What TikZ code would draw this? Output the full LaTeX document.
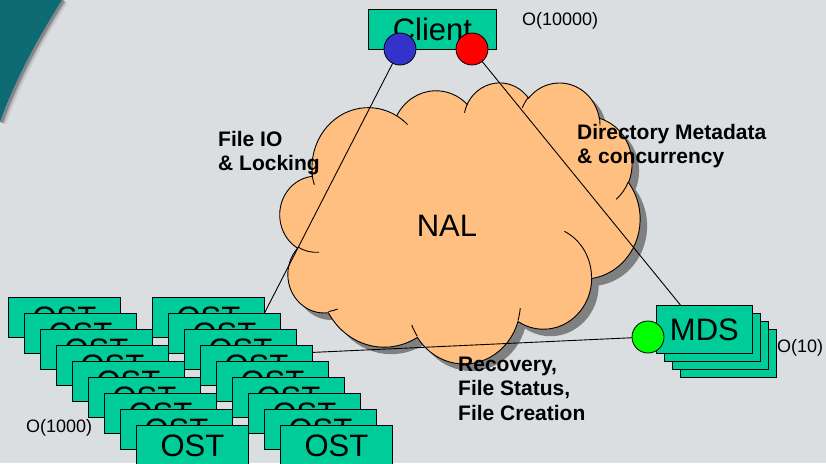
\documentclass[tikz,border=0pt]{standalone}
\usepackage{fontspec}
\setmainfont{Liberation Sans}
\usetikzlibrary{calc}

\definecolor{bgcol}{RGB}{219,222,225}
\definecolor{swoosh}{RGB}{14,107,115}
\definecolor{boxgreen}{RGB}{0,204,153}
\definecolor{cloudorange}{RGB}{255,191,128}
\definecolor{cloudshade}{RGB}{128,128,128}
\definecolor{ioblue}{RGB}{51,51,204}
\definecolor{portgreen}{RGB}{0,255,0}

\pgfdeclarelayer{backdrop}
\pgfdeclarelayer{wires}
\pgfsetlayers{backdrop,wires,main}

\tikzset{
  bigtext/.style={font=\fontsize{31}{36}\selectfont, inner sep=0pt},
  smalltext/.style={font=\fontsize{18}{21}\selectfont, inner sep=0pt, anchor=base west},
  boldtext/.style={font=\fontsize{21}{24}\selectfont\bfseries, inner sep=0pt, anchor=base west},
  unitbox/.style={rectangle, draw=black, line width=0.8pt, fill=boxgreen, inner sep=0pt,
    minimum width=112pt, minimum height=40pt, anchor=north west,
    font=\fontsize{31}{36}\selectfont},
  mdsbox/.style={unitbox, minimum width=96pt, minimum height=48pt},
  port/.style={circle, draw=black, line width=0.8pt, inner sep=0pt, minimum size=32pt},
  wire/.style={draw=black, line width=0.9pt},
  cloudline/.style={draw=black, line width=0.9pt},
  % elliptical arc given by DrawingML-style radii and visual angles (degrees)
  carc/.style n args={4}{x radius=#1pt, y radius=#2pt,
    start angle={ppar(#1,#2,#3)}, end angle={ppar(#1,#2,(#3)+(#4))}},
}

% cloud outline in a 432 x 432 design box, placed at #2 with style #1
\newcommand\nalcloud[2]{%
  \begin{scope}[shift={#2}, x=1pt, y=1pt, xscale=360/432, yscale=-281/432]
    \path[#1] (39.00,143.70)
      arc[carc={67.53}{91.90}{-190.48748}{123.78053}]
      arc[carc={53.33}{72.67}{-144.10238}{89.94523}]
      arc[carc={43.65}{59.45}{-145.80792}{99.72302}]
      arc[carc={48.57}{65.95}{-130.98607}{117.24173}]
      arc[carc={53.33}{72.73}{-78.70888}{109.02692}]
      arc[carc={67.75}{92.20}{-46.26725}{130.2690}]
      arc[carc={57.85}{78.67}{0.62502}{114.03333}]
      arc[carc={67.52}{92.15}{22.4516}{115.17255}]
      arc[carc={77.20}{105.43}{66.24263}{75.71102}]
      arc[carc={43.60}{59.18}{-274.94208}{146.73557}]
      arc[carc={43.45}{59.45}{-246.8285}{152.51885}]
      -- cycle;
  \end{scope}}

% the small inner curves between the puffs
\newcommand\nalcloudcreases{%
  \begin{scope}[shift={(280,82)}, x=1pt, y=1pt, xscale=360/432, yscale=-281/432]
    \path[cloudline]
      (46.93,261.77) arc[carc={43.45}{59.45}{86.742}{26.4295}]
      (69.28,348.99) arc[carc={43.60}{59.18}{73.61047}{11.44747}]
      (164.78,390.90) arc[carc={67.52}{92.15}{137.62415}{14.0811}]
      (288.27,347.51) arc[carc={67.52}{92.15}{6.45327}{15.99835}]
      (341.29,229.54) arc[carc={57.85}{78.67}{-70.29235}{70.91737}]
      (417.98,153.54) arc[carc={53.33}{72.73}{30.31803}{27.7515}]
      (383.24,54.26) arc[carc={48.57}{65.95}{-13.74433}{14.8589}]
      (290.78,39.52) arc[carc={48.57}{65.95}{-149.18145}{18.19537}]
      (221.41,47.20) arc[carc={43.65}{59.45}{-163.49427}{17.68635}]
      (140.00,51.92) arc[carc={67.53}{91.90}{-66.70695}{12.31935}]
      (41.27,157.89) arc[carc={67.53}{91.90}{154.69628}{17.45258}];
  \end{scope}}

\begin{document}
\begin{tikzpicture}[x=1pt, y=-1pt,
  declare function={ppar(\w,\h,\a)=\a+atan2((\w-\h)*sin(\a)*cos(\a),\h*cos(\a)^2+\w*sin(\a)^2);}]

\useasboundingbox (0,0) rectangle (826,463);

\begin{pgfonlayer}{backdrop}
  % slide background
  \fill[bgcol] (0,0) rectangle (826,463);
  % corner swoosh with its soft shadow
  \begin{scope}[shift={(1.5,0.5)}]
    \foreach \w/\o in {10/0.06, 7/0.08, 4.5/0.12, 2.5/0.2}
      \draw[line width=\w pt, black, opacity=\o]
        (62,0) .. controls (38,38) and (15,80) .. (0,122);
  \end{scope}
  \fill[swoosh] (0,0) -- (62,0) .. controls (38,38) and (15,80) .. (0,122) -- cycle;

  % network cloud
  \nalcloud{fill=cloudshade}{(287,89)}
  \nalcloud{fill=cloudorange, draw=black, line width=0.9pt}{(280,82)}
  \nalcloudcreases
\end{pgfonlayer}

% storage targets
\foreach \i in {0,...,8}
  \node[unitbox] (ostL\i) at ({8+16*\i},{297+16*\i}) {OST};
\foreach \i in {0,...,8}
  \node[unitbox] (ostR\i) at ({152+16*\i},{297+16*\i}) {OST};

% metadata servers
\foreach \i in {3,2,1}
  \node[mdsbox] (mds\i) at ({656+8*\i},{305+8*\i}) {};
\node[mdsbox] (mds0) at (656,305) {MDS};

% client
\node[unitbox, minimum width=128pt] (client) at (368,9) {Client};

% ports
\node[port, fill=ioblue] (pio) at (400,49) {};
\node[port, fill=red] (pmeta) at (472,49) {};
\node[port, fill=portgreen] (prec) at (648,337) {};

% connections
\begin{pgfonlayer}{wires}
  \draw[wire] (pio.center) -- ([yshift=5pt]ostR0.east);
  \draw[wire] (pmeta.center) -- ([xshift=-24pt]mds0.north);
  \draw[wire] (prec.center) -- ([yshift=13pt]ostR3.east);
\end{pgfonlayer}

% labels
\node[bigtext, anchor=base] (nal) at (447,236) {NAL};
\node[boldtext] (fio1) at (218,146) {File IO};
\node[boldtext] (fio2) at (218,170) {\& Locking};
\node[boldtext] (dm1) at (577,139) {Directory Metadata};
\node[boldtext] (dm2) at (577,163) {\& concurrency};
\node[boldtext] (rc1) at (458,371) {Recovery,};
\node[boldtext] (rc2) at (458,395) {File Status,};
\node[boldtext] (rc3) at (458,420) {File Creation};
\node[smalltext] (nclient) at (522,25) {O(10000)};
\node[smalltext] (nost) at (26,432) {O(1000)};
\node[smalltext] (nmds) at (777,352) {O(10)};

\end{tikzpicture}
\end{document}
